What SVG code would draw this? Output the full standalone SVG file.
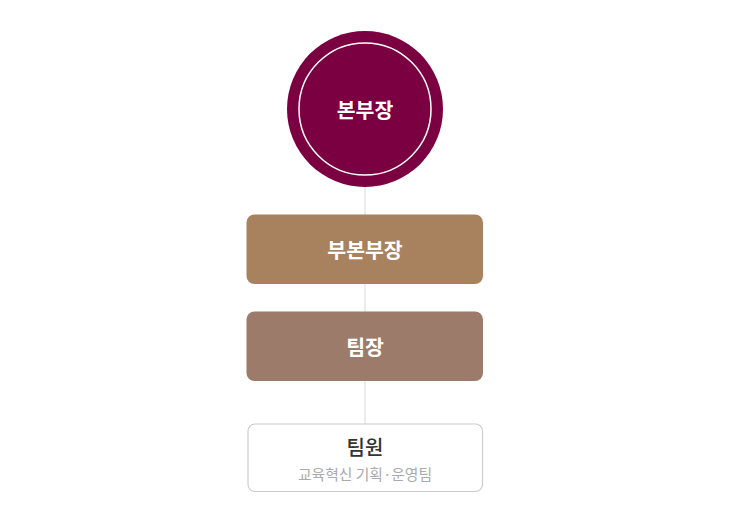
<svg xmlns="http://www.w3.org/2000/svg" width="730" height="522" viewBox="0 0 730 522">
<style>
.t{font-family:"Noto Sans CJK KR","Noto Sans",sans-serif;text-anchor:middle;dominant-baseline:central}
.w{fill:#ffffff;font-size:20.5px;font-weight:700}
</style>
<rect width="730" height="522" fill="#ffffff"/>
<g id="connectors">
<line x1="365" y1="186" x2="365" y2="424" stroke="#e6e6e6" stroke-width="1.5"/>
</g>
<g id="node-head">
<circle cx="365" cy="109" r="78" fill="#7a0041"/>
<circle cx="365" cy="109" r="66" fill="none" stroke="#ffffff" stroke-width="1.5"/>
<text class="t w" x="365" y="109" font-size="21">본부장</text>
</g>
<g id="node-deputy">
<rect x="246.5" y="214.5" width="236.5" height="69.5" rx="8" fill="#a8825f"/>
<text class="t w" x="365" y="249">부본부장</text>
</g>
<g id="node-leader">
<rect x="246.5" y="311.5" width="236.5" height="69.5" rx="8" fill="#9d7b6b"/>
<text class="t w" x="365" y="346">팀장</text>
</g>
<g id="node-member">
<rect x="248" y="424" width="234.5" height="67.5" rx="7" fill="#ffffff" stroke="#cccccc" stroke-width="1.2"/>
<text class="t" x="365" y="446" font-size="20" font-weight="500" fill="#333333">팀원</text>
<text class="t" x="365" y="473" font-size="14.8" fill="#aaaaaa">교육혁신 기획·운영팀</text>
</g>
</svg>
